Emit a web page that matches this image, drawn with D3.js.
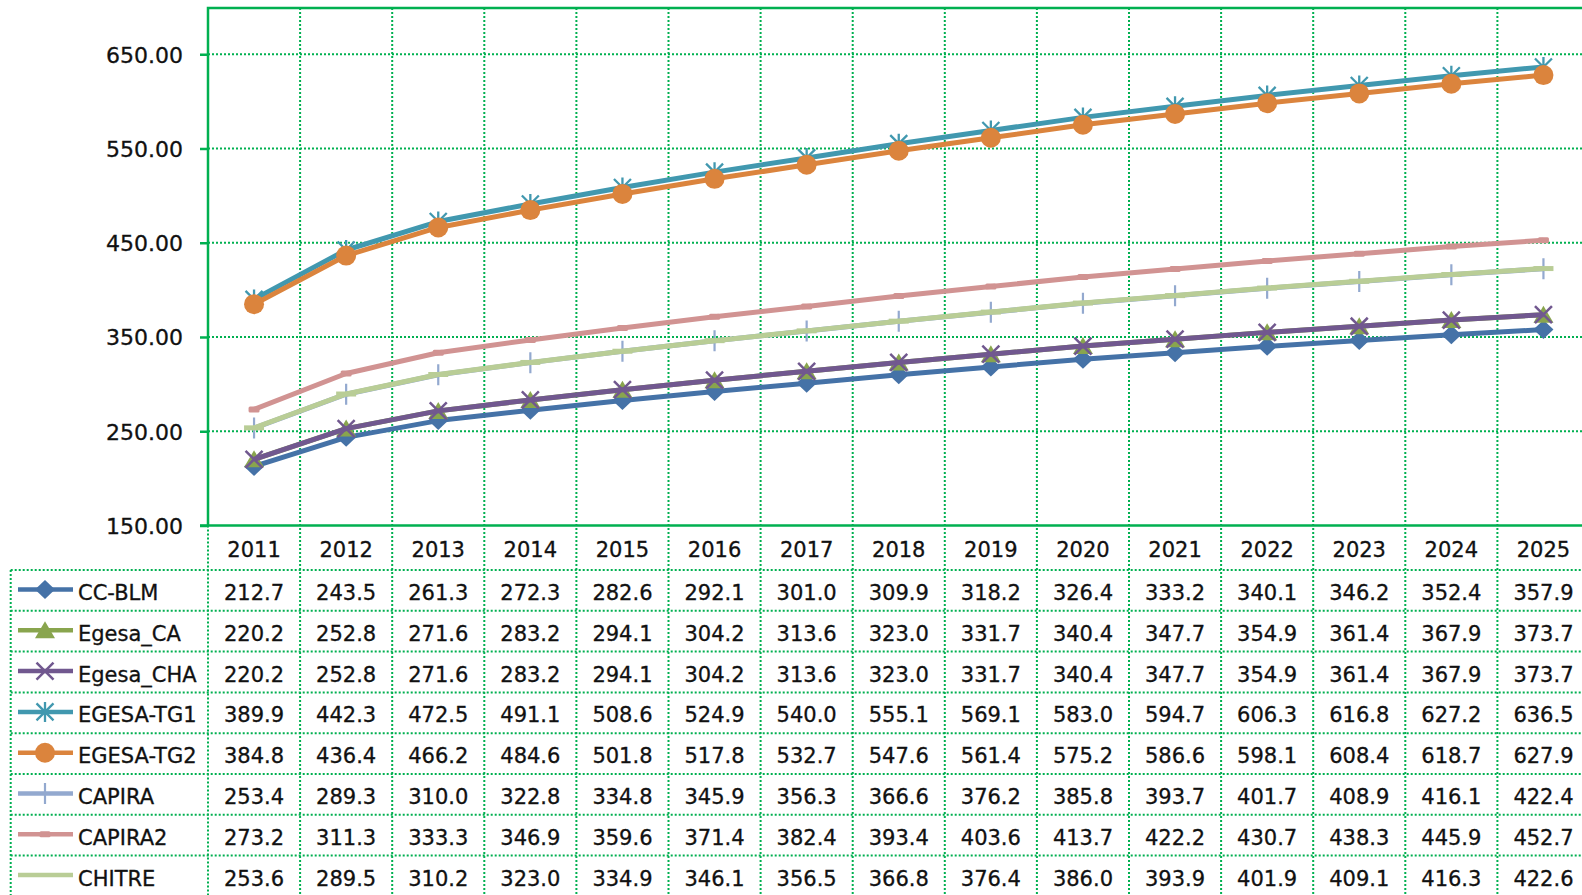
<!DOCTYPE html>
<html>
<head>
<meta charset="utf-8">
<script src="https://cdn.jsdelivr.net/npm/d3@7"></script>
<style>
  html, body { margin: 0; padding: 0; background: #fff; overflow: hidden; }
  svg { display: block; font-family: "DejaVu Sans", Verdana, sans-serif; }
  .grid { stroke: #00B050; stroke-width: 2; stroke-dasharray: 2,2; fill: none; }
  .frame { stroke: #00B050; stroke-width: 2.5; fill: none; }
  .cell { font-size: 21px; fill: #111; stroke: #111; stroke-width: 0.3; }
</style>
</head>
<body>
<svg id="chart" width="1582" height="895"></svg>
<script>
// Data
const years = ['2011','2012','2013','2014','2015','2016','2017','2018','2019','2020','2021','2022','2023','2024','2025'];
const seriesNames = ['CC-BLM','Egesa_CA','Egesa_CHA','EGESA-TG1','EGESA-TG2','CAPIRA','CAPIRA2','CHITRE'];
const ccBlm    = [212.7,243.5,261.3,272.3,282.6,292.1,301.0,309.9,318.2,326.4,333.2,340.1,346.2,352.4,357.9];
const egesaCa  = [220.2,252.8,271.6,283.2,294.1,304.2,313.6,323.0,331.7,340.4,347.7,354.9,361.4,367.9,373.7];
const egesaCha = [220.2,252.8,271.6,283.2,294.1,304.2,313.6,323.0,331.7,340.4,347.7,354.9,361.4,367.9,373.7];
const egesaTg1 = [389.9,442.3,472.5,491.1,508.6,524.9,540.0,555.1,569.1,583.0,594.7,606.3,616.8,627.2,636.5];
const egesaTg2 = [384.8,436.4,466.2,484.6,501.8,517.8,532.7,547.6,561.4,575.2,586.6,598.1,608.4,618.7,627.9];
const capira   = [253.4,289.3,310.0,322.8,334.8,345.9,356.3,366.6,376.2,385.8,393.7,401.7,408.9,416.1,422.4];
const capira2  = [273.2,311.3,333.3,346.9,359.6,371.4,382.4,393.4,403.6,413.7,422.2,430.7,438.3,445.9,452.7];
const chitre   = [253.6,289.5,310.2,323.0,334.9,346.1,356.5,366.8,376.4,386.0,393.9,401.9,409.1,416.3,422.6];
const yTicks = [150, 250, 350, 450, 550, 650];

const seriesValues = [ccBlm, egesaCa, egesaCha, egesaTg1, egesaTg2, capira, capira2, chitre];

// Styles per series
const styles = {
  'CC-BLM':    { color: '#4572A7', marker: 'diamond' },
  'Egesa_CA':  { color: '#89A54E', marker: 'triangle' },
  'Egesa_CHA': { color: '#71588F', marker: 'x' },
  'EGESA-TG1': { color: '#4198AF', marker: 'star' },
  'EGESA-TG2': { color: '#DB843D', marker: 'circle' },
  'CAPIRA':    { color: '#93A9CF', marker: 'plus' },
  'CAPIRA2':   { color: '#D19392', marker: 'bar' },
  'CHITRE':    { color: '#B9CD96', marker: 'longbar' }
};

const svg = d3.select('#chart');
const W = 1582, H = 895;
const plotLeft = 208, plotTop = 8, plotBottom = 525.5;
const colW = 92.1;
const tableTop = 570, rowH = 40.8, tableLeft = 10.7;

const x = d3.scaleBand().domain(years).range([plotLeft, plotLeft + colW * years.length]);
const y = d3.scaleLinear().domain([150, 700]).range([plotBottom, 7.1]);
const row = d3.scaleBand().domain(seriesNames).range([tableTop, tableTop + rowH * seriesNames.length]);
const plotRight = x.range()[1];

// Gridlines
const grid = svg.append('g');
grid.selectAll('.hgrid')
  .data(yTicks.filter(t => t > 150))
  .join('line')
  .attr('class', 'grid')
  .attr('x1', plotLeft).attr('x2', plotRight)
  .attr('y1', d => y(d)).attr('y2', d => y(d));

// vertical boundaries between categories (plot + table)
const bounds = years.map(d => x(d) + x.bandwidth());
grid.selectAll('.vgrid')
  .data(bounds)
  .join('line')
  .attr('class', 'grid')
  .attr('x1', d => d).attr('x2', d => d)
  .attr('y1', plotTop).attr('y2', H);

// table lines
grid.append('line').attr('class', 'grid')
  .attr('x1', plotLeft).attr('x2', plotLeft).attr('y1', plotBottom).attr('y2', H);
grid.append('line').attr('class', 'grid')
  .attr('x1', tableLeft).attr('x2', tableLeft).attr('y1', tableTop).attr('y2', H);
grid.selectAll('.rowline')
  .data(seriesNames)
  .join('line')
  .attr('class', 'grid')
  .attr('x1', tableLeft).attr('x2', plotRight)
  .attr('y1', d => row(d)).attr('y2', d => row(d));

// Y axis
const yAxis = d3.axisLeft(y)
  .tickValues(yTicks)
  .tickFormat(d3.format('.2f'))
  .tickSize(8)
  .tickPadding(17);

const gy = svg.append('g')
  .attr('transform', `translate(${plotLeft},0)`)
  .call(yAxis);
gy.select('.domain').remove();
gy.selectAll('.tick line').attr('stroke', '#00B050').attr('stroke-width', 2.5);
gy.selectAll('.tick text')
  .attr('font-size', 22)
  .attr('font-family', '"DejaVu Sans", Verdana, sans-serif')
  .attr('fill', '#111')
  .attr('stroke', '#111')
  .attr('stroke-width', 0.3)
  .attr('dy', '0.36em');

// plot frame
svg.append('path')
  .attr('class', 'frame')
  .attr('d', `M${plotRight},${plotTop}H${plotLeft}V${plotBottom}H${plotRight}`);
svg.append('line').attr('class', 'frame')
  .attr('x1', plotLeft - 8).attr('x2', plotLeft)
  .attr('y1', plotBottom).attr('y2', plotBottom);

// Marker drawing
function drawMarker(g, type, color) {
  if (type === 'diamond') {
    g.append('path').attr('d', 'M0,-9.5L10,0L0,9.5L-10,0Z').attr('fill', color);
  } else if (type === 'triangle') {
    g.append('path').attr('d', 'M0,-9L10,8L-10,8Z').attr('fill', color);
  } else if (type === 'x') {
    g.append('path').attr('d', 'M-8.5,-8.5L8.5,8.5M-8.5,8.5L8.5,-8.5')
      .attr('stroke', color).attr('stroke-width', 2.5).attr('fill', 'none');
  } else if (type === 'star') {
    g.append('path').attr('d', 'M0,-10V10M-8.5,-8.5L8.5,8.5M-8.5,8.5L8.5,-8.5')
      .attr('stroke', color).attr('stroke-width', 2.3).attr('fill', 'none');
  } else if (type === 'circle') {
    g.append('circle').attr('r', 10).attr('fill', color);
  } else if (type === 'plus') {
    g.append('path').attr('d', 'M0,-10.5V10.5M-9,0H9')
      .attr('stroke', color).attr('stroke-width', 2.2).attr('fill', 'none');
  } else if (type === 'bar') {
    g.append('rect').attr('x', -5.5).attr('y', -3).attr('width', 11).attr('height', 6)
      .attr('rx', 1.5).attr('fill', color);
  } else if (type === 'longbar') {
    g.append('rect').attr('x', -10).attr('y', -2.5).attr('width', 20).attr('height', 5)
      .attr('fill', color);
  }
}

// Lines
const line = d3.line()
  .x((d, i) => x(years[i]) + x.bandwidth() / 2)
  .y(d => y(d));

seriesNames.forEach((name, si) => {
  const st = styles[name];
  const vals = seriesValues[si];
  const g = svg.append('g');
  g.append('path')
    .datum(vals)
    .attr('d', line)
    .attr('fill', 'none')
    .attr('stroke', st.color)
    .attr('stroke-width', 5)
    .attr('stroke-linejoin', 'round');
  vals.forEach((v, i) => {
    const m = g.append('g')
      .attr('transform', `translate(${x(years[i]) + x.bandwidth() / 2},${y(v)})`);
    drawMarker(m, st.marker, st.color);
  });
});

// Year header row
svg.append('g').selectAll('text')
  .data(years)
  .join('text')
  .attr('class', 'cell')
  .attr('x', d => x(d) + x.bandwidth() / 2)
  .attr('y', plotBottom + 31.5)
  .attr('text-anchor', 'middle')
  .text(d => d);

// Table rows
seriesNames.forEach((name, si) => {
  const st = styles[name];
  const top = row(name);
  const cy = top + 19.5;
  const g = svg.append('g');
  g.append('line')
    .attr('x1', 18).attr('x2', 73)
    .attr('y1', cy).attr('y2', cy)
    .attr('stroke', st.color).attr('stroke-width', 4.5);
  if (st.marker !== 'longbar') {
    const m = g.append('g').attr('transform', `translate(45,${cy})`);
    drawMarker(m, st.marker, st.color);
  }
  g.append('text')
    .attr('class', 'cell')
    .attr('x', 78)
    .attr('y', top + 30)
    .text(name);
  g.selectAll('.val')
    .data(seriesValues[si])
    .join('text')
    .attr('class', 'cell')
    .attr('x', (d, i) => x(years[i]) + x.bandwidth() / 2)
    .attr('y', top + 30)
    .attr('text-anchor', 'middle')
    .text(d => d.toFixed(1));
});
</script>
</body>
</html>
